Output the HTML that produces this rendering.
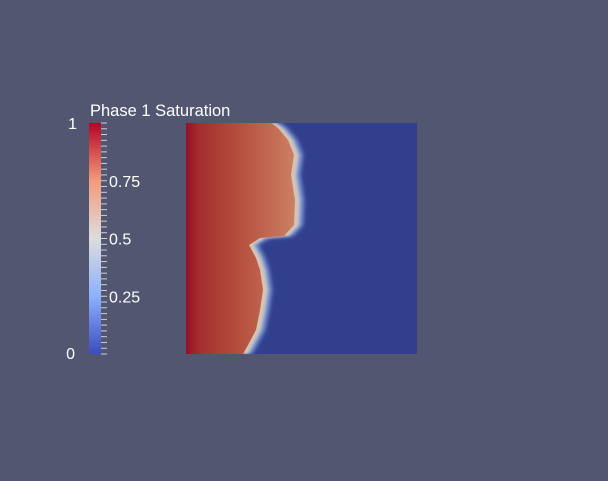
<!DOCTYPE html>
<html><head><meta charset="utf-8"><style>
html,body{margin:0;padding:0;background:#525670;width:608px;height:481px;overflow:hidden}
svg{display:block}
text{font-family:"Liberation Sans",sans-serif;fill:#fff}
</style></head><body>
<svg width="608" height="481">
<defs>
<linearGradient id="cb" x1="0" y1="1" x2="0" y2="0">
<stop offset="0" stop-color="#3b4cc0"/><stop offset="0.25" stop-color="#8db0fe"/>
<stop offset="0.5" stop-color="#dddddd"/><stop offset="0.75" stop-color="#f49a7b"/>
<stop offset="1" stop-color="#b40426"/></linearGradient>
<linearGradient id="red" x1="0" y1="0" x2="1" y2="0">
<stop offset="0" stop-color="#960f24"/><stop offset="0.12" stop-color="#a52d30"/>
<stop offset="0.5" stop-color="#b6503e"/><stop offset="1" stop-color="#cc8064"/></linearGradient>
<filter id="bl" x="-0.2" y="-0.2" width="1.4" height="1.4"><feGaussianBlur stdDeviation="2.2"/></filter>
<filter id="bl2"><feGaussianBlur stdDeviation="1.2"/></filter>
<clipPath id="fc"><rect x="186" y="123" width="231" height="231"/></clipPath>
</defs>
<text x="90" y="116" font-size="16.5">Phase 1 Saturation</text>
<rect x="89" y="123" width="12" height="231" fill="url(#cb)"/>
<g id="ticks"></g>
<g id="labels"></g>
<g clip-path="url(#fc)">
<rect x="186" y="123" width="231" height="231" fill="#313f8d"/>
<polygon id="halo" fill="#7f9ad8" filter="url(#bl)"/>
<polygon id="front" fill="#d2c4b8" filter="url(#bl2)"/>
<polygon id="sat" fill="url(#red)"/>
</g>
</svg>
<script>
// front position (x in px) at depths (y in px) of the saturation field
const frontY=[123,128,140,155,175,200,225,236,238,245,258,270,290,310,330,345,354];
const frontX=[273,280,290,296,293,297,296,286,262,251,258,262,265,262,258,250,245];
const tickVals=[0,0.25,0.5,0.75,1];
const tickLabels=["0","0.25","0.5","0.75","1"];
const NS="http://www.w3.org/2000/svg";
const y0=354,y1=123;
const sy=v=>y0+(y1-y0)*v;
const tg=document.getElementById('ticks');
for(let i=0;i<=40;i++){const v=i/40;const l=document.createElementNS(NS,'line');
l.setAttribute('x1',101);l.setAttribute('x2',107);l.setAttribute('y1',sy(v));l.setAttribute('y2',sy(v));
l.setAttribute('stroke','#cfd0d8');l.setAttribute('stroke-width','1');


tg.appendChild(l);}
const lg=document.getElementById('labels');
tickVals.forEach((v,i)=>{const t=document.createElementNS(NS,'text');
const end=(v===0||v===1);
t.setAttribute('x',end?(v===1?77:75):109);t.setAttribute('y',sy(v)+(v===1?6:v===0?5:6));
t.setAttribute('font-size','16');if(end)t.setAttribute('text-anchor','end');
t.textContent=tickLabels[i];


lg.appendChild(t);});
function poly(dx){let p=['186,123'];frontY.forEach((y,i)=>p.push((frontX[i]+dx)+','+y));p.push('186,354');return p.join(' ');}
document.getElementById('halo').setAttribute('points',poly(7));
document.getElementById('front').setAttribute('points',poly(3));
document.getElementById('sat').setAttribute('points',poly(-2));
</script>
</body></html>
